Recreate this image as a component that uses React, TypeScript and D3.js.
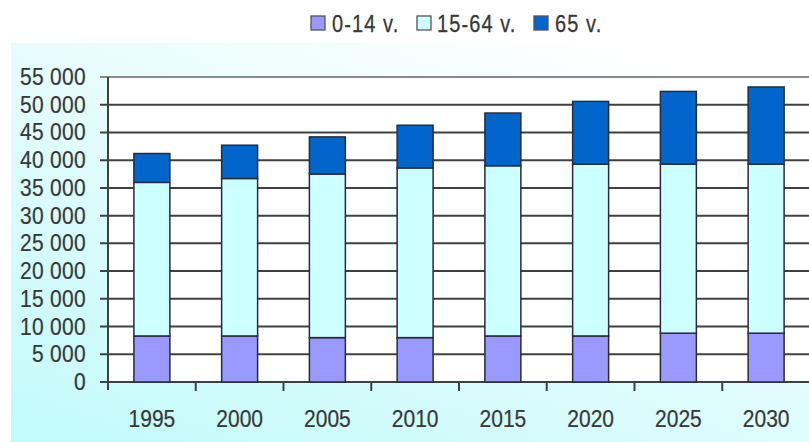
import React from "react";
import * as d3 from "d3";

const years = ["1995", "2000", "2005", "2010", "2015", "2020", "2025", "2030"];
const age0_14 = [8300, 8300, 8000, 8000, 8300, 8300, 8800, 8800];
const age15_64 = [27700, 28400, 29500, 30600, 30700, 31000, 30500, 30500];
const age65 = [5200, 6000, 6700, 7700, 9500, 11300, 13100, 13900];
const seriesNames = ["0-14 v.", "15-64 v.", "65 v."];
const seriesColors = ["#9999ff", "#ccffff", "#0066cc"];
const yTicks = [0, 5000, 10000, 15000, 20000, 25000, 30000, 35000, 40000, 45000, 50000, 55000];

const W = 809;
const H = 442;
const left = 108;
const right = 810;
const top = 77;
const bottom = 382;

export default function App() {
  const x = d3.scaleBand<string>().domain(years).range([left, right]).paddingInner(0.59).paddingOuter(0.295);
  const y = d3.scaleLinear().domain([0, 55000]).range([bottom, top]);
  const rows = years.map((yr, i) => ({ year: yr, a: age0_14[i], b: age15_64[i], c: age65[i] }));
  const stacked = d3.stack<any>().keys(["a", "b", "c"])(rows);
  const fmt = (v: number) => d3.format(",")(v).replace(/,/g, " ");
  const step = x.step();
  const font = "'Liberation Sans', Arial, sans-serif";
  const textColor = "#383838";
  const sy = 1.16;

  const legendItems = [
    { x: 311, tx: 332 },
    { x: 417, tx: 437 },
    { x: 534, tx: 555 },
  ];

  return (
    <svg width={W} height={H} style={{ position: "absolute", left: 0, top: 0 }} fontFamily={font}>
      <defs>
        <linearGradient id="bg" x1="0" y1="1" x2="0.75" y2="0">
          <stop offset="0" stopColor="#c2fafa" />
          <stop offset="0.55" stopColor="#e2fcfc" />
          <stop offset="1" stopColor="#ffffff" />
        </linearGradient>
      </defs>
      <rect x={0} y={0} width={W} height={H} fill="#ffffff" />
      <rect x={11} y={43} width={W - 11} height={H - 43} fill="url(#bg)" />

      {/* legend */}
      {seriesNames.map((name, i) => (
        <g key={name}>
          <rect x={legendItems[i].x} y={16} width={14} height={14} fill={seriesColors[i]} stroke="#555" strokeWidth={1.3} />
          <text
            transform={`translate(${legendItems[i].tx},32) scale(1,${sy})`}
            fontSize={20}
            letterSpacing={1.1}
            fill={textColor}
            stroke={textColor}
            strokeWidth={0.25}
          >
            {name}
          </text>
        </g>
      ))}

      {/* plot area */}
      <rect x={left} y={top} width={right - left} height={bottom - top} fill="#ffffff" />
      {yTicks.map((t) => (
        <line key={"g" + t} x1={left - 8} x2={right} y1={y(t)} y2={y(t)} stroke={t === 55000 ? "#8a8a8a" : "#404040"} strokeWidth={2} />
      ))}
      <line x1={left} x2={left} y1={top} y2={bottom + 8} stroke="#404040" strokeWidth={2} />
      {years.map((yr, i) => (
        <line key={"xt" + yr} x1={left + step * (i + 1)} x2={left + step * (i + 1)} y1={bottom} y2={bottom + 9} stroke="#404040" strokeWidth={2} />
      ))}

      {/* bars */}
      {stacked.map((s, si) =>
        s.map((d, i) => (
          <rect
            key={si + "-" + i}
            x={x(years[i])!}
            y={y(d[1])}
            width={x.bandwidth()}
            height={y(d[0]) - y(d[1])}
            fill={seriesColors[si]}
            stroke="#2a2a3a"
            strokeWidth={1.5}
          />
        ))
      )}

      {/* y labels */}
      {yTicks.map((t) => (
        <text
          key={"yl" + t}
          transform={`translate(86,${y(t) + 8}) scale(1,${sy * 0.95})`}
          textAnchor="end"
          fontSize={21}
          fill={textColor}
          stroke={textColor}
          strokeWidth={0.2}
          letterSpacing={0.3}
        >
          {fmt(t)}
        </text>
      ))}
      {/* x labels */}
      {years.map((yr) => (
        <text
          key={"xl" + yr}
          transform={`translate(${x(yr)! + x.bandwidth() / 2},427) scale(1,${sy})`}
          textAnchor="middle"
          fontSize={21}
          fill={textColor}
          stroke={textColor}
          strokeWidth={0.2}
        >
          {yr}
        </text>
      ))}
    </svg>
  );
}
